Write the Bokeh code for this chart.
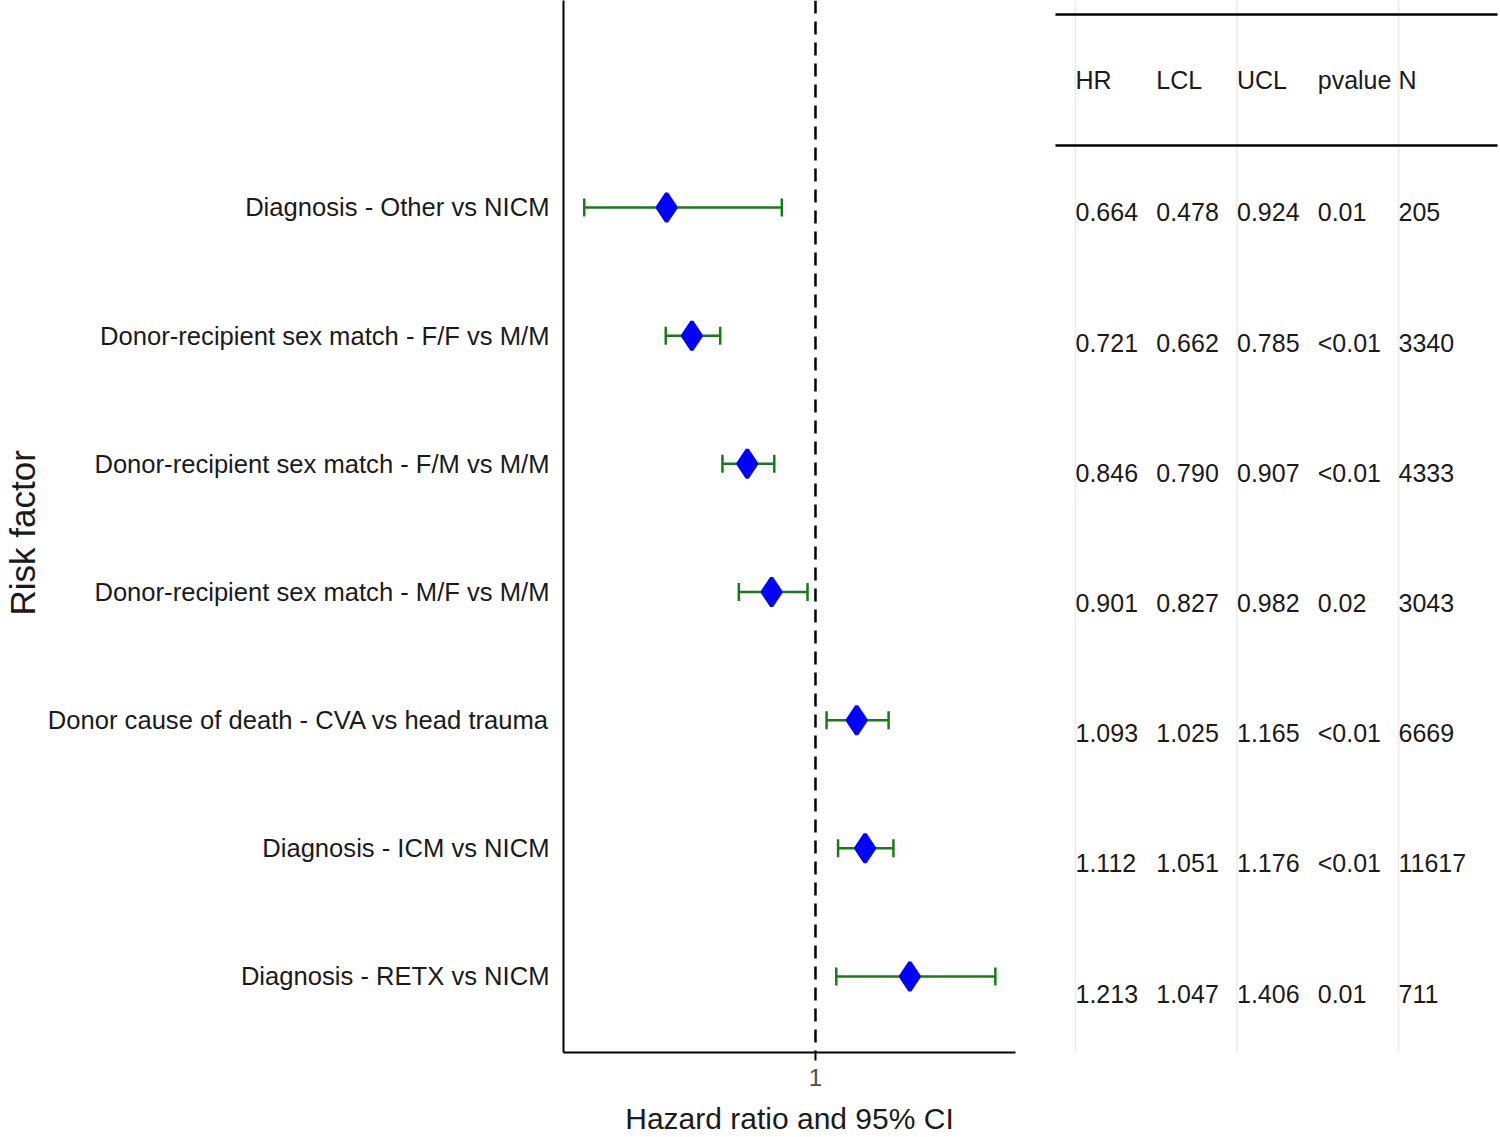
import math
from bokeh.plotting import figure
from bokeh.layouts import row, column
from bokeh.models import (ColumnDataSource, Range1d, FixedTicker, Span, Whisker,
                          TeeHead, Label)
from bokeh.embed import file_html
from bokeh.resources import INLINE
from bokeh.core.properties import value

# ---------------- data ----------------
factors = [
    "Diagnosis - Other vs NICM",
    "Donor-recipient sex match - F/F vs M/M",
    "Donor-recipient sex match - F/M vs M/M",
    "Donor-recipient sex match - M/F vs M/M",
    "Donor cause of death - CVA vs head trauma",
    "Diagnosis - ICM vs NICM",
    "Diagnosis - RETX vs NICM",
]
hr = [0.664, 0.721, 0.846, 0.901, 1.093, 1.112, 1.213]
lcl = [0.478, 0.662, 0.790, 0.827, 1.025, 1.051, 1.047]
ucl = [0.924, 0.785, 0.907, 0.982, 1.165, 1.176, 1.406]
pvalue = ["0.01", "<0.01", "<0.01", "0.02", "<0.01", "<0.01", "0.01"]
n_obs = [205, 3340, 4333, 3043, 6669, 11617, 711]
table_columns = ["HR", "LCL", "UCL", "pvalue", "N"]
x_ticks = [1]
ref_line = 1
x_title = "Hazard ratio and 95% CI"
y_title = "Risk factor"

FONT = "Liberation Sans"
TXT = "#1a1a1a"
GREEN = "#1a7a1a"
H_TOP = 1097          # height of the main row
H_TITLE = 40          # strip holding the x-axis title
FRAME_BOTTOM = 45
W0 = 44               # strip holding the y-axis title

X0, X1 = 0.4312, 1.4515
Y0, Y1 = 0.407, 8.615


def bare(fig):
    fig.outline_line_color = None
    fig.xgrid.visible = False
    fig.ygrid.visible = False
    return fig


# ---------------- left label panel ----------------
f0 = bare(figure(width=W0, height=H_TOP, x_range=Range1d(0, 1), y_range=Range1d(0, 1),
                 x_axis_location=None, y_axis_location=None, min_border=0,
                 min_border_bottom=FRAME_BOTTOM,
                 output_backend="svg", toolbar_location=None))
f0.add_layout(Label(x=0.5, y=0.494, text=y_title, angle=math.pi / 2,
                    text_align="center", text_baseline="middle",
                    text_font=FONT, text_font_size="35px", text_color=TXT))

# ---------------- forest panel ----------------
n = len(factors)
ypos = [n - i for i in range(n)]
src = ColumnDataSource(dict(y=ypos, hr=hr, lcl=lcl, ucl=ucl))

p = bare(figure(width=1040 - W0, height=H_TOP,
                x_range=Range1d(X0, X1), y_range=Range1d(Y0, Y1),
                min_border_left=563 - W0, min_border_right=25, min_border_top=0,
                min_border_bottom=FRAME_BOTTOM, output_backend="svg",
                toolbar_location=None))

p.yaxis.ticker = FixedTicker(ticks=ypos)
p.yaxis.major_label_overrides = {y: f for y, f in zip(ypos, factors)}
p.yaxis.major_tick_out = 0
p.yaxis.major_tick_in = 0
p.yaxis.minor_tick_out = 0
p.yaxis.minor_tick_in = 0
p.yaxis.axis_line_width = 2
p.yaxis.axis_line_color = "black"
p.yaxis.major_label_text_font = FONT
p.yaxis.major_label_text_font_size = "25.6px"
p.yaxis.major_label_text_color = TXT
p.yaxis.major_label_standoff = 14

p.xaxis.ticker = FixedTicker(ticks=x_ticks)
p.xaxis.major_tick_out = 8
p.xaxis.major_tick_in = 0
p.xaxis.major_tick_line_width = 2
p.xaxis.major_tick_line_color = "black"
p.xaxis.minor_tick_out = 0
p.xaxis.minor_tick_in = 0
p.xaxis.axis_line_width = 2
p.xaxis.axis_line_color = "black"
p.xaxis.major_label_text_font = FONT
p.xaxis.major_label_text_font_size = "24px"
p.xaxis.major_label_text_color = "#4d4d4d"
p.xaxis.major_label_standoff = 8

p.add_layout(Span(location=ref_line, dimension="height", line_color="black",
                  line_width=2.5, line_dash="13 8"))

wh = Whisker(source=src, base="y", lower="lcl", upper="ucl", dimension="width",
             line_color=GREEN, line_width=2.5, level="underlay",
             lower_head=TeeHead(size=18, line_color=GREEN, line_width=2.5),
             upper_head=TeeHead(size=18, line_color=GREEN, line_width=2.5))
p.add_layout(wh)
p.scatter("hr", "y", source=src, marker="diamond", size=28,
          fill_color="blue", line_color="blue", line_width=3.5)

# ---------------- table panel ----------------
# frame shares the forest frame's vertical extent (0..1052 px)
t = bare(figure(width=460, height=H_TOP, x_range=Range1d(-0.4334, 5.263),
                y_range=Range1d(6.452, -1.628), x_axis_location=None,
                y_axis_location=None, min_border=0, min_border_bottom=FRAME_BOTTOM,
                output_backend="svg", toolbar_location=None))

col_x = list(range(len(table_columns)))
grid_x = col_x[::2]
t.segment(x0=grid_x, y0=[-1.628] * len(grid_x), x1=grid_x, y1=[6.452] * len(grid_x),
          line_color="#ebebeb", line_width=1.5)
t.segment(x0=[-0.248, -0.248], y0=[-1.521, -0.515], x1=[5.226, 5.226],
          y1=[-1.521, -0.515], line_color="black", line_width=2.5)

t.text(x=col_x, y=[-1.014] * len(col_x), text=table_columns,
       text_align="left", text_baseline="middle", text_font=value(FONT),
       text_font_size="25px", text_color=TXT)

cells = [[f"{v:.3f}" for v in hr], [f"{v:.3f}" for v in lcl],
         [f"{v:.3f}" for v in ucl], pvalue, [str(v) for v in n_obs]]
xs, ys, tx = [], [], []
for ci, colvals in enumerate(cells):
    for ri, s in enumerate(colvals):
        xs.append(col_x[ci])
        ys.append(ri)
        tx.append(s)
t.text(x=xs, y=ys, text=tx, text_align="left", text_baseline="middle",
       text_font=value(FONT), text_font_size="25px", text_color=TXT)

# ---------------- x-axis title strip ----------------
# x range in page pixels; the title is centred under the forest frame
frame_left, frame_right = 563, 563 + 452
ft = bare(figure(width=1500, height=H_TITLE, x_range=Range1d(0, 1500),
                 y_range=Range1d(0, 1), x_axis_location=None, y_axis_location=None,
                 min_border=0, output_backend="svg", toolbar_location=None))
ft.add_layout(Label(x=(frame_left + frame_right) / 2, y=0.47, text=x_title,
                    text_align="center", text_baseline="middle",
                    text_font=FONT, text_font_size="30px", text_color=TXT))

layout = column(row(f0, p, t), ft)
open("out.html", "w").write(file_html(layout, INLINE))
